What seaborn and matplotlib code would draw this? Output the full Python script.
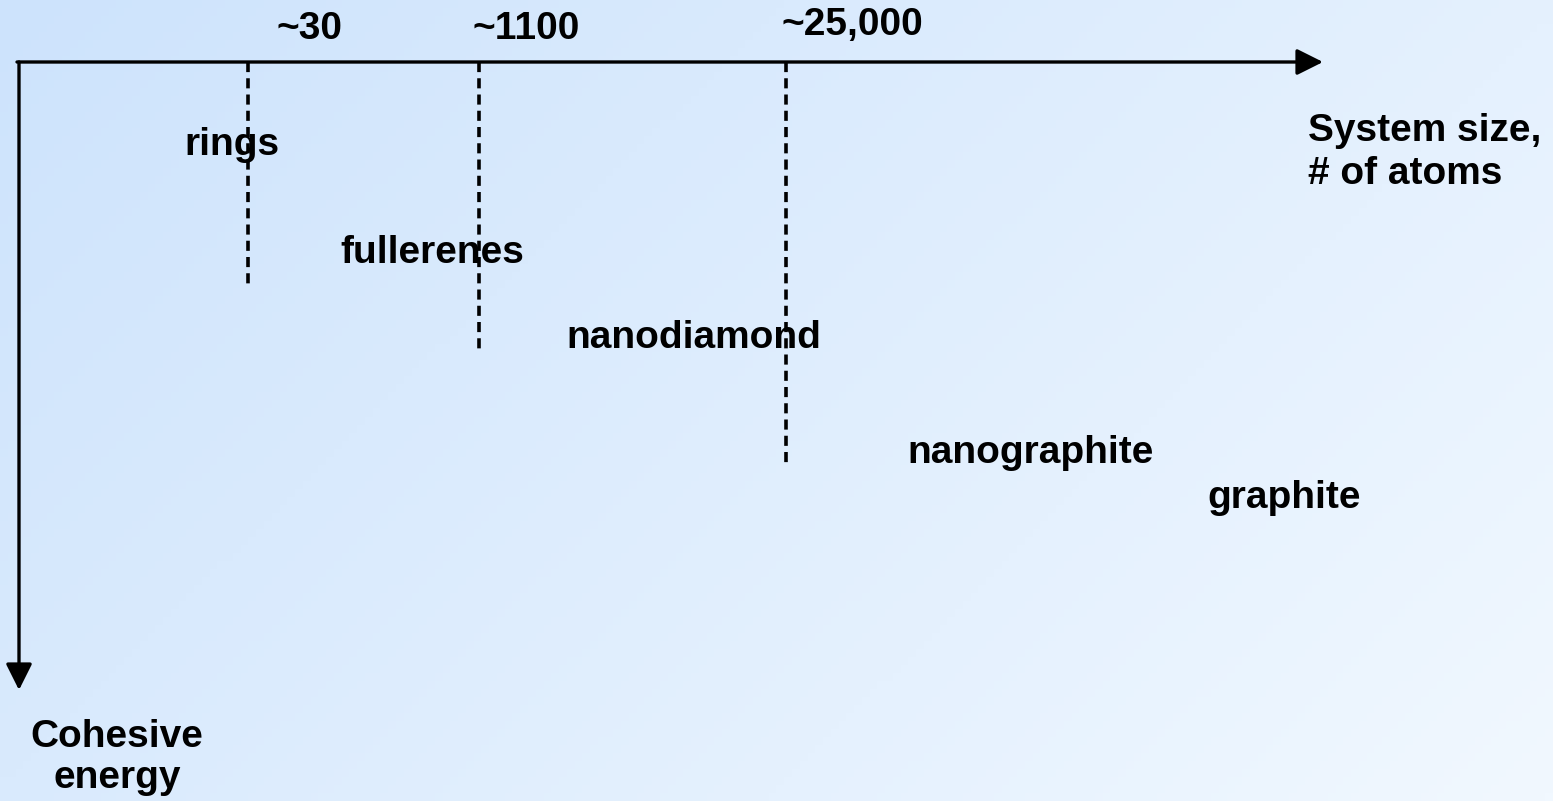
import matplotlib

matplotlib.use("Agg")

import matplotlib.pyplot as plt
import numpy as np
import pandas as pd
import seaborn as sns

# schematic diagram, coordinates in canvas pixels (y grows downward)
thresholds = ["~30", "~1100", "~25,000"]
threshold_x = [248, 479, 786]
threshold_depth = [288, 353, 464]
threshold_label_x = [309, 526, 852]
threshold_label_y = [39, 39, 35]

structures = ["rings", "fullerenes", "nanodiamond", "nanographite", "graphite"]
structure_x = [232, 432, 694, 1031, 1284]
structure_y = [155, 263, 348, 463, 508]

axis_y = 62
axis_x = 19
x_axis_end = 1323
y_axis_end = 690

W, H = 1553, 801

sns.set_theme(style="white")
plt.rcParams["font.family"] = ["Liberation Sans", "DejaVu Sans"]

fig = plt.figure(figsize=(W / 100, H / 100), dpi=100)
ax = fig.add_axes([0, 0, 1, 1])
ax.set_xlim(0, W)
ax.set_ylim(H, 0)
ax.axis("off")

# diagonal light-blue gradient background
gx, gy = np.meshgrid(np.linspace(0, 1, 200), np.linspace(0, 1, 100))
t = (gx * W + gy * H) / (W + H)
c0 = np.array([205, 227, 252]) / 255
c1 = np.array([241, 248, 255]) / 255
bg = c0[None, None, :] * (1 - t[..., None]) + c1[None, None, :] * t[..., None]
ax.imshow(bg, extent=[0, W, H, 0], aspect="auto", zorder=0)

# dashed size thresholds
dash_df = pd.DataFrame({
    "x": [x for x in threshold_x for _ in range(2)],
    "y": [v for d in threshold_depth for v in (axis_y, d)],
    "size": [s for s in thresholds for _ in range(2)],
})
sns.lineplot(data=dash_df, x="x", y="y", units="size", estimator=None, sort=False,
             color="black", lw=2.6, dashes=False, ax=ax, zorder=2)
for line in ax.lines:
    line.set_dashes((2.8, 1.7))

# axes arrows
arrow = dict(arrowstyle="-|>,head_length=0.8,head_width=0.4", mutation_scale=20,
             lw=2.4, color="black", shrinkA=0, shrinkB=0)
ax.annotate("", xy=(x_axis_end, axis_y), xytext=(17, axis_y), arrowprops=arrow, zorder=3)
ax.annotate("", xy=(axis_x, y_axis_end), xytext=(axis_x, axis_y), arrowprops=arrow, zorder=3)

txt = dict(fontsize=28, fontweight="bold", color="black", va="baseline", zorder=4)
for s, x, y in zip(thresholds, threshold_label_x, threshold_label_y):
    ax.text(x, y, s, ha="center", **txt)
for s, x, y in zip(structures, structure_x, structure_y):
    ax.text(x, y, s, ha="center", **txt)

ax.text(1308, 141, "System size,", ha="left", **txt)
ax.text(1308, 184, "# of atoms", ha="left", **txt)
ax.text(117, 747, "Cohesive", ha="center", **txt)
ax.text(117, 788, "energy", ha="center", **txt)

fig.savefig("out.png", dpi=100)
plt.close(fig)
